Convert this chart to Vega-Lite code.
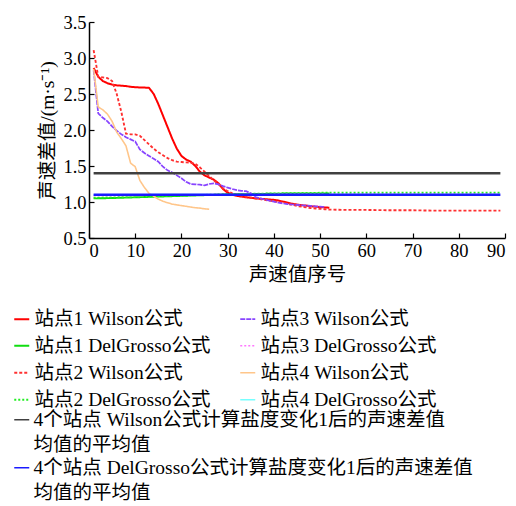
{
  "$schema": "https://vega.github.io/schema/vega-lite/v6.json",
  "width": 416,
  "height": 216,
  "autosize": {"type": "none"},
  "padding": {"left": 89, "top": 22, "right": 11, "bottom": 268},
  "background": "white",
  "config": {
    "view": {"stroke": null},
    "font": "Liberation Serif, Noto Sans CJK SC",
    "style": {"guide-label": {"lineHeight": 25}},
    "axis": {
      "grid": false,
      "domainColor": "#000",
      "domainWidth": 1.5,
      "tickColor": "#000",
      "tickWidth": 1.2,
      "tickSize": -5,
      "labelFont": "Liberation Serif",
      "labelFontSize": 18.5,
      "labelColor": "#000",
      "labelPadding": 8,
      "titleFont": "Liberation Serif, Noto Sans CJK SC",
      "titleFontSize": 19.5,
      "titleFontWeight": "normal",
      "titleColor": "#000"
    },
    "legend": {
      "orient": "none",
      "title": null,
      "padding": 0,
      "labelFont": "Liberation Serif, Noto Sans CJK SC",
      "labelFontSize": 19.5,
      "labelColor": "#000",
      "labelLimit": 0,
      "symbolType": "stroke",
      "symbolSize": 225,
      "labelOffset": 3
    }
  },
  "datasets": {
    "sites": [
      {"s": "站点1 Wilson公式", "x": 1, "y": 2.86}, {"s": "站点1 Wilson公式", "x": 2, "y": 2.74}, {"s": "站点1 Wilson公式", "x": 3, "y": 2.68}, {"s": "站点1 Wilson公式", "x": 4, "y": 2.65}, {"s": "站点1 Wilson公式", "x": 5, "y": 2.63}, {"s": "站点1 Wilson公式", "x": 6, "y": 2.62}, {"s": "站点1 Wilson公式", "x": 7, "y": 2.615}, {"s": "站点1 Wilson公式", "x": 8, "y": 2.61}, {"s": "站点1 Wilson公式", "x": 9, "y": 2.6}, {"s": "站点1 Wilson公式", "x": 10, "y": 2.595}, {"s": "站点1 Wilson公式", "x": 11, "y": 2.59}, {"s": "站点1 Wilson公式", "x": 12, "y": 2.59}, {"s": "站点1 Wilson公式", "x": 13, "y": 2.585}, {"s": "站点1 Wilson公式", "x": 14, "y": 2.5}, {"s": "站点1 Wilson公式", "x": 15, "y": 2.36}, {"s": "站点1 Wilson公式", "x": 16, "y": 2.2}, {"s": "站点1 Wilson公式", "x": 17, "y": 2.04}, {"s": "站点1 Wilson公式", "x": 18, "y": 1.88}, {"s": "站点1 Wilson公式", "x": 19, "y": 1.74}, {"s": "站点1 Wilson公式", "x": 20, "y": 1.64}, {"s": "站点1 Wilson公式", "x": 21, "y": 1.59}, {"s": "站点1 Wilson公式", "x": 22, "y": 1.56}, {"s": "站点1 Wilson公式", "x": 23, "y": 1.5}, {"s": "站点1 Wilson公式", "x": 24, "y": 1.42}, {"s": "站点1 Wilson公式", "x": 25, "y": 1.37}, {"s": "站点1 Wilson公式", "x": 26, "y": 1.34}, {"s": "站点1 Wilson公式", "x": 27, "y": 1.31}, {"s": "站点1 Wilson公式", "x": 28, "y": 1.26}, {"s": "站点1 Wilson公式", "x": 29, "y": 1.18}, {"s": "站点1 Wilson公式", "x": 30, "y": 1.13}, {"s": "站点1 Wilson公式", "x": 31, "y": 1.1}, {"s": "站点1 Wilson公式", "x": 32, "y": 1.085}, {"s": "站点1 Wilson公式", "x": 33, "y": 1.075}, {"s": "站点1 Wilson公式", "x": 34, "y": 1.065}, {"s": "站点1 Wilson公式", "x": 35, "y": 1.06}, {"s": "站点1 Wilson公式", "x": 36, "y": 1.05}, {"s": "站点1 Wilson公式", "x": 37, "y": 1.045}, {"s": "站点1 Wilson公式", "x": 38, "y": 1.04}, {"s": "站点1 Wilson公式", "x": 39, "y": 1.035}, {"s": "站点1 Wilson公式", "x": 40, "y": 1.03}, {"s": "站点1 Wilson公式", "x": 41, "y": 1.02}, {"s": "站点1 Wilson公式", "x": 42, "y": 1.005}, {"s": "站点1 Wilson公式", "x": 43, "y": 0.99}, {"s": "站点1 Wilson公式", "x": 44, "y": 0.975}, {"s": "站点1 Wilson公式", "x": 45, "y": 0.965}, {"s": "站点1 Wilson公式", "x": 46, "y": 0.955}, {"s": "站点1 Wilson公式", "x": 47, "y": 0.95}, {"s": "站点1 Wilson公式", "x": 48, "y": 0.94}, {"s": "站点1 Wilson公式", "x": 49, "y": 0.935}, {"s": "站点1 Wilson公式", "x": 50, "y": 0.93}, {"s": "站点1 Wilson公式", "x": 51, "y": 0.925}, {"s": "站点1 Wilson公式", "x": 52, "y": 0.92},

      {"s": "站点1 DelGrosso公式", "x": 1, "y": 1.05}, {"s": "站点1 DelGrosso公式", "x": 5, "y": 1.055}, {"s": "站点1 DelGrosso公式", "x": 10, "y": 1.065}, {"s": "站点1 DelGrosso公式", "x": 15, "y": 1.075}, {"s": "站点1 DelGrosso公式", "x": 20, "y": 1.085}, {"s": "站点1 DelGrosso公式", "x": 25, "y": 1.095}, {"s": "站点1 DelGrosso公式", "x": 30, "y": 1.105}, {"s": "站点1 DelGrosso公式", "x": 35, "y": 1.11}, {"s": "站点1 DelGrosso公式", "x": 40, "y": 1.115}, {"s": "站点1 DelGrosso公式", "x": 45, "y": 1.12}, {"s": "站点1 DelGrosso公式", "x": 52, "y": 1.12},

      {"s": "站点2 Wilson公式", "x": 1, "y": 3.11}, {"s": "站点2 Wilson公式", "x": 2, "y": 2.74}, {"s": "站点2 Wilson公式", "x": 3, "y": 2.73}, {"s": "站点2 Wilson公式", "x": 4, "y": 2.72}, {"s": "站点2 Wilson公式", "x": 5, "y": 2.68}, {"s": "站点2 Wilson公式", "x": 6, "y": 2.5}, {"s": "站点2 Wilson公式", "x": 7, "y": 2.25}, {"s": "站点2 Wilson公式", "x": 8, "y": 1.95}, {"s": "站点2 Wilson公式", "x": 9, "y": 1.94}, {"s": "站点2 Wilson公式", "x": 10, "y": 1.94}, {"s": "站点2 Wilson公式", "x": 11, "y": 1.92}, {"s": "站点2 Wilson公式", "x": 12, "y": 1.86}, {"s": "站点2 Wilson公式", "x": 13, "y": 1.8}, {"s": "站点2 Wilson公式", "x": 14, "y": 1.74}, {"s": "站点2 Wilson公式", "x": 15, "y": 1.69}, {"s": "站点2 Wilson公式", "x": 16, "y": 1.65}, {"s": "站点2 Wilson公式", "x": 17, "y": 1.61}, {"s": "站点2 Wilson公式", "x": 18, "y": 1.58}, {"s": "站点2 Wilson公式", "x": 19, "y": 1.56}, {"s": "站点2 Wilson公式", "x": 20, "y": 1.555}, {"s": "站点2 Wilson公式", "x": 21, "y": 1.55}, {"s": "站点2 Wilson公式", "x": 22, "y": 1.545}, {"s": "站点2 Wilson公式", "x": 23, "y": 1.53}, {"s": "站点2 Wilson公式", "x": 24, "y": 1.48}, {"s": "站点2 Wilson公式", "x": 25, "y": 1.42}, {"s": "站点2 Wilson公式", "x": 26, "y": 1.36}, {"s": "站点2 Wilson公式", "x": 27, "y": 1.3}, {"s": "站点2 Wilson公式", "x": 28, "y": 1.25}, {"s": "站点2 Wilson公式", "x": 29, "y": 1.19}, {"s": "站点2 Wilson公式", "x": 30, "y": 1.15}, {"s": "站点2 Wilson公式", "x": 31, "y": 1.12}, {"s": "站点2 Wilson公式", "x": 32, "y": 1.1}, {"s": "站点2 Wilson公式", "x": 33, "y": 1.085}, {"s": "站点2 Wilson公式", "x": 34, "y": 1.07}, {"s": "站点2 Wilson公式", "x": 35, "y": 1.06}, {"s": "站点2 Wilson公式", "x": 36, "y": 1.05}, {"s": "站点2 Wilson公式", "x": 37, "y": 1.04}, {"s": "站点2 Wilson公式", "x": 38, "y": 1.03}, {"s": "站点2 Wilson公式", "x": 39, "y": 1.02}, {"s": "站点2 Wilson公式", "x": 40, "y": 1.01}, {"s": "站点2 Wilson公式", "x": 41, "y": 1.0}, {"s": "站点2 Wilson公式", "x": 42, "y": 0.99}, {"s": "站点2 Wilson公式", "x": 43, "y": 0.975}, {"s": "站点2 Wilson公式", "x": 44, "y": 0.96}, {"s": "站点2 Wilson公式", "x": 45, "y": 0.945}, {"s": "站点2 Wilson公式", "x": 46, "y": 0.935}, {"s": "站点2 Wilson公式", "x": 47, "y": 0.925}, {"s": "站点2 Wilson公式", "x": 48, "y": 0.915}, {"s": "站点2 Wilson公式", "x": 49, "y": 0.91}, {"s": "站点2 Wilson公式", "x": 50, "y": 0.905}, {"s": "站点2 Wilson公式", "x": 51, "y": 0.9}, {"s": "站点2 Wilson公式", "x": 52, "y": 0.895}, {"s": "站点2 Wilson公式", "x": 55, "y": 0.89}, {"s": "站点2 Wilson公式", "x": 60, "y": 0.89}, {"s": "站点2 Wilson公式", "x": 65, "y": 0.885}, {"s": "站点2 Wilson公式", "x": 70, "y": 0.885}, {"s": "站点2 Wilson公式", "x": 75, "y": 0.88}, {"s": "站点2 Wilson公式", "x": 80, "y": 0.88}, {"s": "站点2 Wilson公式", "x": 85, "y": 0.88}, {"s": "站点2 Wilson公式", "x": 89, "y": 0.88},

      {"s": "站点2 DelGrosso公式", "x": 1, "y": 1.06}, {"s": "站点2 DelGrosso公式", "x": 10, "y": 1.07}, {"s": "站点2 DelGrosso公式", "x": 20, "y": 1.09}, {"s": "站点2 DelGrosso公式", "x": 30, "y": 1.11}, {"s": "站点2 DelGrosso公式", "x": 40, "y": 1.12}, {"s": "站点2 DelGrosso公式", "x": 52, "y": 1.13}, {"s": "站点2 DelGrosso公式", "x": 60, "y": 1.13}, {"s": "站点2 DelGrosso公式", "x": 70, "y": 1.13}, {"s": "站点2 DelGrosso公式", "x": 80, "y": 1.13}, {"s": "站点2 DelGrosso公式", "x": 89, "y": 1.13},

      {"s": "站点3 Wilson公式", "x": 1, "y": 2.83}, {"s": "站点3 Wilson公式", "x": 2, "y": 2.23}, {"s": "站点3 Wilson公式", "x": 3, "y": 2.17}, {"s": "站点3 Wilson公式", "x": 4, "y": 2.12}, {"s": "站点3 Wilson公式", "x": 5, "y": 2.05}, {"s": "站点3 Wilson公式", "x": 6, "y": 1.99}, {"s": "站点3 Wilson公式", "x": 7, "y": 1.94}, {"s": "站点3 Wilson公式", "x": 8, "y": 1.9}, {"s": "站点3 Wilson公式", "x": 9, "y": 1.87}, {"s": "站点3 Wilson公式", "x": 10, "y": 1.84}, {"s": "站点3 Wilson公式", "x": 11, "y": 1.73}, {"s": "站点3 Wilson公式", "x": 12, "y": 1.68}, {"s": "站点3 Wilson公式", "x": 13, "y": 1.64}, {"s": "站点3 Wilson公式", "x": 14, "y": 1.6}, {"s": "站点3 Wilson公式", "x": 15, "y": 1.56}, {"s": "站点3 Wilson公式", "x": 16, "y": 1.49}, {"s": "站点3 Wilson公式", "x": 17, "y": 1.44}, {"s": "站点3 Wilson公式", "x": 18, "y": 1.41}, {"s": "站点3 Wilson公式", "x": 19, "y": 1.37}, {"s": "站点3 Wilson公式", "x": 20, "y": 1.33}, {"s": "站点3 Wilson公式", "x": 21, "y": 1.28}, {"s": "站点3 Wilson公式", "x": 22, "y": 1.25}, {"s": "站点3 Wilson公式", "x": 23, "y": 1.245}, {"s": "站点3 Wilson公式", "x": 24, "y": 1.24}, {"s": "站点3 Wilson公式", "x": 25, "y": 1.23}, {"s": "站点3 Wilson公式", "x": 26, "y": 1.25}, {"s": "站点3 Wilson公式", "x": 27, "y": 1.26}, {"s": "站点3 Wilson公式", "x": 28, "y": 1.245}, {"s": "站点3 Wilson公式", "x": 29, "y": 1.22}, {"s": "站点3 Wilson公式", "x": 30, "y": 1.2}, {"s": "站点3 Wilson公式", "x": 31, "y": 1.18}, {"s": "站点3 Wilson公式", "x": 32, "y": 1.165}, {"s": "站点3 Wilson公式", "x": 33, "y": 1.155}, {"s": "站点3 Wilson公式", "x": 34, "y": 1.15}, {"s": "站点3 Wilson公式", "x": 35, "y": 1.12}, {"s": "站点3 Wilson公式", "x": 36, "y": 1.07}, {"s": "站点3 Wilson公式", "x": 37, "y": 1.05}, {"s": "站点3 Wilson公式", "x": 38, "y": 1.035}, {"s": "站点3 Wilson公式", "x": 39, "y": 1.02}, {"s": "站点3 Wilson公式", "x": 40, "y": 1.005}, {"s": "站点3 Wilson公式", "x": 41, "y": 0.99}, {"s": "站点3 Wilson公式", "x": 42, "y": 0.98}, {"s": "站点3 Wilson公式", "x": 43, "y": 0.97}, {"s": "站点3 Wilson公式", "x": 44, "y": 0.965}, {"s": "站点3 Wilson公式", "x": 45, "y": 0.96}, {"s": "站点3 Wilson公式", "x": 46, "y": 0.955}, {"s": "站点3 Wilson公式", "x": 47, "y": 0.95}, {"s": "站点3 Wilson公式", "x": 48, "y": 0.945}, {"s": "站点3 Wilson公式", "x": 49, "y": 0.94}, {"s": "站点3 Wilson公式", "x": 50, "y": 0.935}, {"s": "站点3 Wilson公式", "x": 51, "y": 0.93},

      {"s": "站点3 DelGrosso公式", "x": 1, "y": 1.09}, {"s": "站点3 DelGrosso公式", "x": 20, "y": 1.095}, {"s": "站点3 DelGrosso公式", "x": 30, "y": 1.1}, {"s": "站点3 DelGrosso公式", "x": 40, "y": 1.105}, {"s": "站点3 DelGrosso公式", "x": 51, "y": 1.105},

      {"s": "站点4 Wilson公式", "x": 1, "y": 2.85}, {"s": "站点4 Wilson公式", "x": 2, "y": 2.32}, {"s": "站点4 Wilson公式", "x": 3, "y": 2.28}, {"s": "站点4 Wilson公式", "x": 4, "y": 2.22}, {"s": "站点4 Wilson公式", "x": 5, "y": 2.12}, {"s": "站点4 Wilson公式", "x": 6, "y": 1.97}, {"s": "站点4 Wilson公式", "x": 7, "y": 1.88}, {"s": "站点4 Wilson公式", "x": 8, "y": 1.78}, {"s": "站点4 Wilson公式", "x": 9, "y": 1.54}, {"s": "站点4 Wilson公式", "x": 10, "y": 1.49}, {"s": "站点4 Wilson公式", "x": 11, "y": 1.3}, {"s": "站点4 Wilson公式", "x": 12, "y": 1.2}, {"s": "站点4 Wilson公式", "x": 13, "y": 1.12}, {"s": "站点4 Wilson公式", "x": 14, "y": 1.08}, {"s": "站点4 Wilson公式", "x": 15, "y": 1.04}, {"s": "站点4 Wilson公式", "x": 16, "y": 1.01}, {"s": "站点4 Wilson公式", "x": 17, "y": 0.99}, {"s": "站点4 Wilson公式", "x": 18, "y": 0.97}, {"s": "站点4 Wilson公式", "x": 19, "y": 0.96}, {"s": "站点4 Wilson公式", "x": 20, "y": 0.95}, {"s": "站点4 Wilson公式", "x": 21, "y": 0.94}, {"s": "站点4 Wilson公式", "x": 22, "y": 0.93}, {"s": "站点4 Wilson公式", "x": 23, "y": 0.92}, {"s": "站点4 Wilson公式", "x": 24, "y": 0.915}, {"s": "站点4 Wilson公式", "x": 25, "y": 0.905}, {"s": "站点4 Wilson公式", "x": 26, "y": 0.9},

      {"s": "站点4 DelGrosso公式", "x": 1, "y": 1.1}, {"s": "站点4 DelGrosso公式", "x": 26, "y": 1.105}
    ],
    "means": [
      {"m": "4个站点 Wilson公式计算盐度变化1后的声速差值|均值的平均值", "x": 1, "y": 1.4},
      {"m": "4个站点 Wilson公式计算盐度变化1后的声速差值|均值的平均值", "x": 89, "y": 1.4},
      {"m": "4个站点 DelGrosso公式计算盐度变化1后的声速差值|均值的平均值", "x": 1, "y": 1.1},
      {"m": "4个站点 DelGrosso公式计算盐度变化1后的声速差值|均值的平均值", "x": 89, "y": 1.1}
    ]
  },
  "encoding": {
    "x": {
      "field": "x",
      "type": "quantitative",
      "title": "声速值序号",
      "scale": {"domain": [0, 90], "nice": false},
      "axis": {"values": [0, 10, 20, 30, 40, 50, 60, 70, 80, 90], "titlePadding": 6}
    },
    "y": {
      "field": "y",
      "type": "quantitative",
      "title": "声速差值/(m·s⁻¹)",
      "scale": {"domain": [0.5, 3.5], "nice": false, "zero": false},
      "axis": {"values": [0.5, 1, 1.5, 2, 2.5, 3, 3.5], "format": ".1f", "titlePadding": 5}
    }
  },
  "layer": [
    {
      "data": {"name": "sites"},
      "mark": {"type": "line", "clip": true},
      "encoding": {
        "color": {
          "field": "s",
          "type": "nominal",
          "scale": {
            "domain": ["站点1 Wilson公式", "站点1 DelGrosso公式", "站点2 Wilson公式", "站点2 DelGrosso公式", "站点3 Wilson公式", "站点3 DelGrosso公式", "站点4 Wilson公式", "站点4 DelGrosso公式"],
            "range": ["#ff0000", "#10dd10", "#ff3030", "#22ee22", "#8844ff", "#ff77ff", "#ffc68a", "#77ffff"]
          },
          "legend": {"columns": 2, "columnPadding": 25, "rowPadding": 6, "legendX": -77, "legendY": 287}
        },
        "strokeDash": {
          "field": "s",
          "type": "nominal",
          "scale": {
            "domain": ["站点1 Wilson公式", "站点1 DelGrosso公式", "站点2 Wilson公式", "站点2 DelGrosso公式", "站点3 Wilson公式", "站点3 DelGrosso公式", "站点4 Wilson公式", "站点4 DelGrosso公式"],
            "range": [[1, 0], [1, 0], [3, 2], [2, 2], [5, 1], [2, 2], [1, 0], [1, 0]]
          },
          "legend": {"columns": 2, "columnPadding": 25, "rowPadding": 6, "legendX": -77, "legendY": 287}
        },
        "strokeWidth": {
          "field": "s",
          "type": "nominal",
          "scale": {
            "domain": ["站点1 Wilson公式", "站点1 DelGrosso公式", "站点2 Wilson公式", "站点2 DelGrosso公式", "站点3 Wilson公式", "站点3 DelGrosso公式", "站点4 Wilson公式", "站点4 DelGrosso公式"],
            "range": [2, 1.5, 1.2, 1.2, 1, 1.2, 1, 1.2]
          },
          "legend": {"columns": 2, "columnPadding": 25, "rowPadding": 6, "legendX": -77, "legendY": 287}
        }
      }
    },
    {
      "data": {"name": "means"},
      "mark": {"type": "line", "strokeWidth": 2.5},
      "encoding": {
        "stroke": {
          "field": "m",
          "type": "nominal",
          "scale": {
            "domain": ["4个站点 Wilson公式计算盐度变化1后的声速差值|均值的平均值", "4个站点 DelGrosso公式计算盐度变化1后的声速差值|均值的平均值"],
            "range": ["#404040", "#1a1aff"]
          },
          "legend": {"columns": 1, "rowPadding": 2, "legendX": -77, "legendY": 388, "labelExpr": "split(datum.label, '|')", "labelOffset": 2}
        }
      }
    }
  ]
}
